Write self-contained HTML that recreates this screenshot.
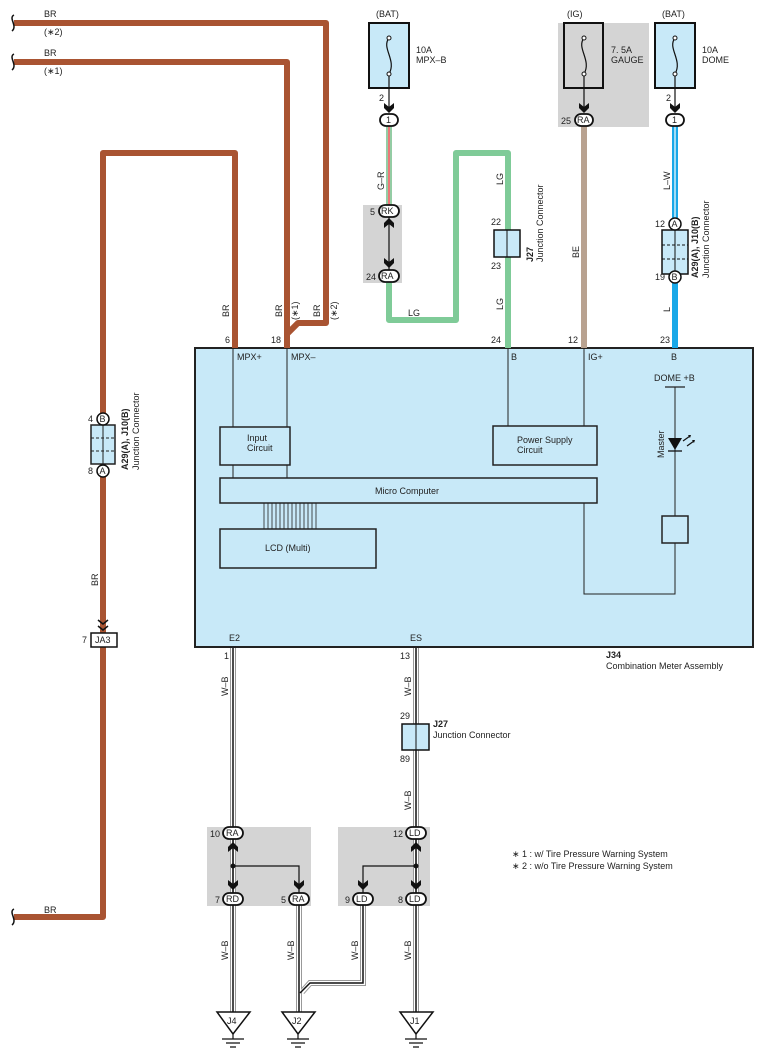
<!DOCTYPE html>
<html><head><meta charset="utf-8"><style>
html,body{margin:0;padding:0;background:#fff}
svg{display:block}
text{font-family:"Liberation Sans",sans-serif;font-size:9px;fill:#222}
.b{font-weight:bold}
</style></head><body>
<svg width="764" height="1064" viewBox="0 0 764 1064" xmlns="http://www.w3.org/2000/svg">
<defs>
<g id="chev"><path d="M-5,-6 L0,-2 L5,-6 L5,-1 L0,4 L-5,-1Z" fill="#111"/></g>
<g id="chevu"><path d="M-5,6 L0,2 L5,6 L5,1 L0,-4 L-5,1Z" fill="#111"/></g>
<g id="wb"><rect x="-3" y="0" width="6" height="1" fill="#999"/></g>
</defs>

<!-- gray shaded areas -->
<rect x="558" y="23" width="91" height="104" fill="#d4d4d4"/>
<rect x="363" y="205" width="39" height="78" fill="#d4d4d4"/>
<rect x="207" y="827" width="104" height="79" fill="#d4d4d4"/>
<rect x="338" y="827" width="92" height="79" fill="#d4d4d4"/>

<!-- main box -->
<rect x="195" y="348" width="558" height="299" fill="#c8e9f8" stroke="#222" stroke-width="2"/>

<!-- BR wires -->
<g fill="none" stroke="#a95432" stroke-width="6" stroke-linejoin="round">
<path d="M14,23 H326 V323 H298 L287,334 V348"/>
<path d="M14,62 H287 V348"/>
<path d="M235,348 V153 H103 V917 H14"/>
</g>
<!-- break marks -->
<g fill="none" stroke="#111" stroke-width="1.5">
<path d="M14,15 C8,18 18,26 12,31"/>
<path d="M14,54 C8,57 18,65 12,70"/>
<path d="M14,909 C8,912 18,920 12,925"/>
</g>
<text x="44" y="17">BR</text><text x="44" y="35">(∗2)</text>
<text x="44" y="56">BR</text><text x="44" y="74">(∗1)</text>
<text x="44" y="913">BR</text>

<!-- vertical labels -->
<g>
<text transform="translate(229,317) rotate(-90)">BR</text>
<text transform="translate(282,317) rotate(-90)">BR</text>
<text transform="translate(298,320) rotate(-90)">(∗1)</text>
<text transform="translate(320,317) rotate(-90)">BR</text>
<text transform="translate(337,320) rotate(-90)">(∗2)</text>
<text transform="translate(98,586) rotate(-90)">BR</text>
</g>
<text x="225" y="343">6</text><text x="271" y="343">18</text>

<!-- left junction connector -->
<rect x="91" y="425" width="24" height="39" fill="#c8e9f8" stroke="#222" stroke-width="1.5"/>
<line x1="103" y1="425" x2="103" y2="464" stroke="#222"/>
<line x1="91" y1="438" x2="115" y2="438" stroke="#222" stroke-dasharray="3,2"/>
<line x1="91" y1="451" x2="115" y2="451" stroke="#222" stroke-dasharray="3,2"/>
<circle cx="103" cy="419" r="6" fill="#fff" stroke="#111" stroke-width="1.5"/><text x="99.5" y="422" font-size="8">B</text>
<circle cx="103" cy="471" r="6" fill="#fff" stroke="#111" stroke-width="1.5"/><text x="99.5" y="474" font-size="8">A</text>
<text x="88" y="422">4</text><text x="88" y="474">8</text>
<text class="b" transform="translate(128,470) rotate(-90)">A29(A), J10(B)</text>
<text transform="translate(139,470) rotate(-90)">Junction Connector</text>

<!-- JA3 -->
<path d="M98,620 L103,624 L108,620 M98,626 L103,630 L108,626" stroke="#111" stroke-width="1.5" fill="none"/>
<rect x="91" y="633" width="26" height="14" fill="#fff" stroke="#111" stroke-width="1.5"/>
<text x="95" y="643">JA3</text><text x="82" y="643">7</text>

<!-- Fuses -->
<g stroke="#111" stroke-width="2" fill="#c8e9f8">
<rect x="369" y="23" width="40" height="65"/>
<rect x="564" y="23" width="39" height="65" fill="#d4d4d4"/>
<rect x="655" y="23" width="40" height="65"/>
</g>
<g fill="none" stroke="#111" stroke-width="1.2">
<path d="M389,38 C381,48 397,60 389,74 V108"/>
<path d="M584,38 C576,48 592,60 584,74 V108"/>
<path d="M675,38 C667,48 683,60 675,74 V108"/>
</g>
<g fill="#fff" stroke="#111" stroke-width="1"><circle cx="389" cy="38" r="2"/><circle cx="389" cy="74" r="2"/><circle cx="584" cy="38" r="2"/><circle cx="584" cy="74" r="2"/><circle cx="675" cy="38" r="2"/><circle cx="675" cy="74" r="2"/></g>
<text x="376" y="17">(BAT)</text><text x="567" y="17">(IG)</text><text x="662" y="17">(BAT)</text>
<text x="416" y="53">10A</text><text x="416" y="63">MPX–B</text>
<text x="611" y="53">7. 5A</text><text x="611" y="63">GAUGE</text>
<text x="702" y="53">10A</text><text x="702" y="63">DOME</text>
<use href="#chev" x="389" y="109"/><use href="#chev" x="584" y="109"/><use href="#chev" x="675" y="109"/>
<text x="379" y="101">2</text><text x="666" y="101">2</text>

<!-- G-R wire -->
<line x1="389" y1="126" x2="389" y2="206" stroke="#2a9a4a" stroke-width="5"/>
<line x1="389" y1="126" x2="389" y2="206" stroke="#fff" stroke-width="3"/>
<line x1="389" y1="126" x2="389" y2="206" stroke="#e03030" stroke-width="1.3"/>
<text transform="translate(384,190) rotate(-90)">G–R</text>
<line x1="389" y1="217" x2="389" y2="270" stroke="#111" stroke-width="1.2"/>
<use href="#chevu" x="389" y="222"/><use href="#chev" x="389" y="264"/>

<!-- LG wire -->
<path d="M389,282 V320 H456 V153 H508 V348" fill="none" stroke="#7fcb98" stroke-width="6" stroke-linejoin="round"/>
<text x="408" y="316">LG</text>
<text transform="translate(503,185) rotate(-90)">LG</text>
<text transform="translate(503,310) rotate(-90)">LG</text>
<rect x="494" y="230" width="26" height="27" fill="#c8e9f8" stroke="#111" stroke-width="1.5"/>
<line x1="507" y1="230" x2="507" y2="257" stroke="#111"/>
<text x="491" y="225">22</text><text x="491" y="269">23</text>
<text class="b" transform="translate(533,262) rotate(-90)">J27</text>
<text transform="translate(543,262) rotate(-90)">Junction Connector</text>
<text x="491" y="343">24</text>

<!-- BE wire -->
<line x1="584" y1="126" x2="584" y2="348" stroke="#b8a290" stroke-width="6"/>
<text transform="translate(579,258) rotate(-90)">BE</text>
<text x="568" y="343">12</text>

<!-- blue wire -->
<line x1="675" y1="126" x2="675" y2="348" stroke="#19a8e8" stroke-width="6"/>
<line x1="675" y1="126" x2="675" y2="218" stroke="#fff" stroke-width="1.2"/>
<text transform="translate(670,190) rotate(-90)">L–W</text>
<text transform="translate(670,312) rotate(-90)">L</text>
<text x="660" y="343">23</text>
<rect x="662" y="230" width="26" height="44" fill="#c8e9f8" stroke="#111" stroke-width="1.5"/>
<line x1="675" y1="230" x2="675" y2="274" stroke="#111"/>
<line x1="662" y1="245" x2="688" y2="245" stroke="#111" stroke-dasharray="3,2"/>
<line x1="662" y1="259" x2="688" y2="259" stroke="#111" stroke-dasharray="3,2"/>
<circle cx="675" cy="224" r="6" fill="#fff" stroke="#111" stroke-width="1.5"/><text x="671.5" y="227" font-size="8">A</text>
<circle cx="675" cy="277" r="6" fill="#fff" stroke="#111" stroke-width="1.5"/><text x="671.5" y="280" font-size="8">B</text>
<text x="655" y="227">12</text><text x="655" y="280">19</text>
<text class="b" transform="translate(698,278) rotate(-90)">A29(A), J10(B)</text>
<text transform="translate(709,278) rotate(-90)">Junction Connector</text>

<!-- oval connectors top -->
<g fill="#fff" stroke="#111" stroke-width="1.8">
<rect x="380" y="114" width="18" height="12" rx="6"/>
<rect x="575" y="114" width="18" height="12" rx="6"/>
<rect x="666" y="114" width="18" height="12" rx="6"/>
<rect x="379" y="205" width="20" height="12" rx="6"/>
<rect x="379" y="270" width="20" height="12" rx="6"/>
</g>
<text x="386" y="123" font-size="8">1</text><text x="672" y="123" font-size="8">1</text>
<text x="577" y="123" font-size="8">RA</text><text x="561" y="124">25</text>
<text x="381" y="214" font-size="8">RK</text><text x="370" y="215">5</text>
<text x="381" y="279" font-size="8">RA</text><text x="366" y="280">24</text>

<!-- inside box -->
<g stroke="#222" stroke-width="1" fill="none">
<line x1="233" y1="348" x2="233" y2="427"/><line x1="287" y1="348" x2="287" y2="427"/>
<line x1="233" y1="465" x2="233" y2="478"/><line x1="287" y1="465" x2="287" y2="478"/>
<line x1="508" y1="348" x2="508" y2="426"/><line x1="584" y1="348" x2="584" y2="426"/>
<path d="M584,503 V594 H675 V543"/>
<path d="M675,516 V387"/>
<line x1="665" y1="387" x2="685" y2="387" stroke-width="1.3"/>
</g>
<g stroke="#222" stroke-width="1.5" fill="#c8e9f8">
<rect x="220" y="427" width="70" height="38"/>
<rect x="493" y="426" width="104" height="39"/>
<rect x="220" y="478" width="377" height="25"/>
<rect x="220" y="529" width="156" height="39"/>
<rect x="662" y="516" width="26" height="27"/>
</g>
<g stroke="#222" stroke-width="0.8">
<line x1="264" y1="503" x2="264" y2="529"/><line x1="268" y1="503" x2="268" y2="529"/><line x1="272" y1="503" x2="272" y2="529"/><line x1="276" y1="503" x2="276" y2="529"/><line x1="280" y1="503" x2="280" y2="529"/><line x1="284" y1="503" x2="284" y2="529"/><line x1="288" y1="503" x2="288" y2="529"/><line x1="292" y1="503" x2="292" y2="529"/><line x1="296" y1="503" x2="296" y2="529"/><line x1="300" y1="503" x2="300" y2="529"/><line x1="304" y1="503" x2="304" y2="529"/><line x1="308" y1="503" x2="308" y2="529"/><line x1="312" y1="503" x2="312" y2="529"/><line x1="316" y1="503" x2="316" y2="529"/>
</g>
<!-- LED -->
<path d="M668,438 H682 L675,450 Z" fill="#111"/>
<line x1="668" y1="451" x2="682" y2="451" stroke="#111" stroke-width="1.3"/>
<path d="M683,441 L690,436 M687,446 L694,441" stroke="#111" stroke-width="1.2"/>
<path d="M688,435 L691,435 L690,438Z M692,440 L695,440 L694,443Z" fill="#111"/>
<text transform="translate(664,458) rotate(-90)">Master</text>
<text x="237" y="360">MPX+</text><text x="291" y="360">MPX–</text>
<text x="511" y="360">B</text><text x="588" y="360">IG+</text><text x="671" y="360">B</text>
<text x="654" y="381">DOME +B</text>
<text x="247" y="441">Input</text><text x="247" y="451">Circuit</text>
<text x="517" y="443">Power Supply</text><text x="517" y="453">Circuit</text>
<text x="375" y="494">Micro Computer</text>
<text x="265" y="551">LCD (Multi)</text>
<text x="229" y="641">E2</text><text x="410" y="641">ES</text>
<text class="b" x="606" y="658">J34</text><text x="606" y="669">Combination Meter Assembly</text>

<!-- W-B wires -->
<g fill="none" stroke-linejoin="miter">
<g stroke="#999" stroke-width="6">
<path d="M233,648 V1012"/><path d="M416,648 V1012"/><path d="M299,905 V1012"/><path d="M363,905 V983 H310 L302,992"/>
</g>
<g stroke="#fff" stroke-width="4">
<path d="M233,648 V1012"/><path d="M416,648 V1012"/><path d="M299,905 V1012"/><path d="M363,905 V983 H310 L302,992"/>
</g>
<g stroke="#111" stroke-width="1.5">
<path d="M233,648 V1012"/><path d="M416,648 V1012"/><path d="M299,905 V1012"/><path d="M363,905 V983 H310 L300,993"/>
</g>
</g>
<text x="224" y="659">1</text><text x="400" y="659">13</text>
<text transform="translate(228,696) rotate(-90)">W–B</text>
<text transform="translate(411,696) rotate(-90)">W–B</text>
<text transform="translate(411,810) rotate(-90)">W–B</text>
<text transform="translate(228,960) rotate(-90)">W–B</text>
<text transform="translate(294,960) rotate(-90)">W–B</text>
<text transform="translate(358,960) rotate(-90)">W–B</text>
<text transform="translate(411,960) rotate(-90)">W–B</text>
<rect x="402" y="724" width="27" height="26" fill="#c8e9f8" stroke="#111" stroke-width="1.5"/>
<line x1="416" y1="724" x2="416" y2="750" stroke="#111"/>
<text x="400" y="719">29</text><text x="400" y="762">89</text>
<text class="b" x="433" y="727">J27</text><text x="433" y="738">Junction Connector</text>

<!-- lower splices -->
<g stroke="#111" stroke-width="1.2" fill="none">
<path d="M233,838 V893"/><path d="M233,866 H299 V893"/>
<path d="M416,838 V893"/><path d="M416,866 H363 V893"/>
</g>
<circle cx="233" cy="866" r="2.5" fill="#111"/><circle cx="416" cy="866" r="2.5" fill="#111"/>
<use href="#chevu" x="233" y="846"/><use href="#chevu" x="416" y="846"/>
<use href="#chev" x="233" y="886"/><use href="#chev" x="299" y="886"/><use href="#chev" x="363" y="886"/><use href="#chev" x="416" y="886"/>
<g fill="#fff" stroke="#111" stroke-width="1.8">
<rect x="223" y="827" width="20" height="12" rx="6"/>
<rect x="406" y="827" width="20" height="12" rx="6"/>
<rect x="223" y="893" width="20" height="12" rx="6"/>
<rect x="289" y="893" width="20" height="12" rx="6"/>
<rect x="353" y="893" width="20" height="12" rx="6"/>
<rect x="406" y="893" width="20" height="12" rx="6"/>
</g>
<g font-size="8"><text x="226" y="836" font-size="8">RA</text><text x="409" y="836" font-size="8">LD</text>
<text x="226" y="902" font-size="8">RD</text><text x="292" y="902" font-size="8">RA</text><text x="356" y="902" font-size="8">LD</text><text x="409" y="902" font-size="8">LD</text></g>
<text x="210" y="837">10</text><text x="393" y="837">12</text>
<text x="215" y="903">7</text><text x="281" y="903">5</text><text x="345" y="903">9</text><text x="398" y="903">8</text>

<!-- grounds -->
<g stroke="#111" stroke-width="1.5" fill="#fff">
<path d="M217,1012 H250 L233,1034 Z"/>
<path d="M282,1012 H315 L298,1034 Z"/>
<path d="M400,1012 H433 L416,1034 Z"/>
</g>
<g stroke="#111" stroke-width="1.2">
<path d="M233,1034 V1039 M222,1039 H244 M226,1043 H240 M230,1047 H236"/>
<path d="M298,1034 V1039 M287,1039 H309 M291,1043 H305 M295,1047 H301"/>
<path d="M416,1034 V1039 M405,1039 H427 M409,1043 H423 M413,1047 H419"/>
</g>
<text x="227" y="1024">J4</text><text x="292" y="1024">J2</text><text x="410" y="1024">J1</text>

<text x="512" y="857">∗ 1 : w/ Tire Pressure Warning System</text>
<text x="512" y="869">∗ 2 : w/o Tire Pressure Warning System</text>
</svg>
</body></html>
